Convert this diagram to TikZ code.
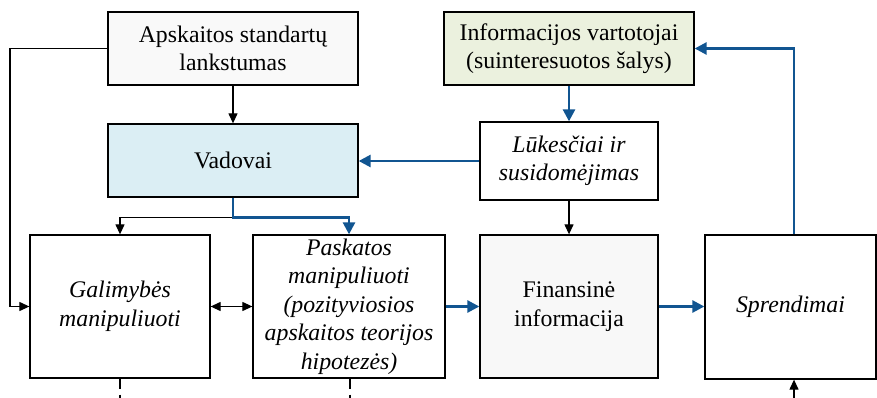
\documentclass[tikz,border=0pt]{standalone}
\usepackage{fontspec}
\setmainfont{LiberationSerif}[Extension=.ttf, UprightFont=*-Regular,
  ItalicFont=*-Italic, BoldFont=*-Bold, BoldItalicFont=*-BoldItalic]
\usetikzlibrary{arrows.meta}
\definecolor{arrblue}{RGB}{17,85,145}
\definecolor{vadfill}{RGB}{219,238,244}
\definecolor{vartfill}{RGB}{235,241,222}
\definecolor{stdfill}{RGB}{249,249,249}
\definecolor{finfill}{RGB}{248,248,248}
\begin{document}
\begin{tikzpicture}[x=1pt, y=-1pt,
    every node/.style = {shape=rectangle, draw, align=center,
      line width=1.3pt, inner sep=0pt,
      font=\fontsize{23.8}{28.5}\selectfont},
    blk/.style = {draw=black, line width=1.2pt, -{Triangle[length=10pt,width=9pt]}},
    blu/.style = {draw=arrblue, line width=2.6pt, -{Triangle[length=12pt,width=12pt]}}]
    \useasboundingbox (0,0) rectangle (877,398);
    \node (apsk) [fill=stdfill, minimum width=250pt, minimum height=73pt] at (233,48.5)
        {Apskaitos standartų \\ lankstumas};
    \node (vad) [fill=vadfill, minimum width=250pt, minimum height=73pt] at (233,160.5)
        {Vadovai};
    \node (vart) [fill=vartfill, minimum width=250pt, minimum height=73pt] at (569,48.5)
        {Informacijos vartotojai \\ (suinteresuotos šalys)};
    \node (luk) [fill=white, minimum width=178pt, minimum height=78pt] at (569,161)
        {\itshape Lūkesčiai ir \\ \itshape susidomėjimas};
    \node (gal) [fill=white, minimum width=180pt, minimum height=143pt] at (120,306.5)
        {\itshape Galimybės \\ \itshape manipuliuoti};
    \node (pask) [fill=white, minimum width=192pt, minimum height=143pt] at (349,306.5)
        {\itshape Paskatos \\ \itshape manipuliuoti \\ \itshape (pozityviosios \\
         \itshape apskaitos teorijos \\ \itshape hipotezės)};
    \node (fin) [fill=finfill, minimum width=178pt, minimum height=143pt] at (569,306.5)
        {Finansinė \\ informacija};
    \node (spr) [fill=white, minimum width=171pt, minimum height=144pt] at (790.5,307)
        {\itshape Sprendimai};
    % black connectors
    \coordinate (lft) at (10,48.5);
    \draw[blk] (apsk.west) -- (lft) |- (gal.west);
    \draw[blk] (apsk) -- (vad);
    \draw[blk] (vad.south) -- ++(0,20) -| (gal.north);
    \draw[blk, {Triangle[length=10pt,width=9pt]}-{Triangle[length=10pt,width=9pt]}] (gal) -- (pask);
    \draw[blk] (luk) -- (fin);
    % blue connectors
    \draw[blu] (vad.south) -- ++(0,20) -| (pask.north);
    \draw[blu] (pask) -- (fin);
    \draw[blu] (fin.east) -- (fin.east -| spr.west);
    \draw[blu] ([xshift=3.5pt]spr.north) |- (vart.east);
    \draw[blu] (vart) -- (luk);
    \draw[blu] (luk.west) -- (luk.west -| vad.east);
    % cut-off lines at the bottom
    \coordinate (galb) at (120,398);
    \coordinate (paskb) at (350,398);
    \coordinate (sprb) at (794,398);
    \draw[line width=1.2pt, dash pattern=on 10pt off 6pt on 4pt] (gal.south) -- (galb);
    \draw[line width=1.2pt, dash pattern=on 10pt off 6pt on 4pt] ([xshift=1pt]pask.south) -- (paskb);
    \draw[blk] (sprb) -- (sprb |- spr.south);
\end{tikzpicture}
\end{document}
